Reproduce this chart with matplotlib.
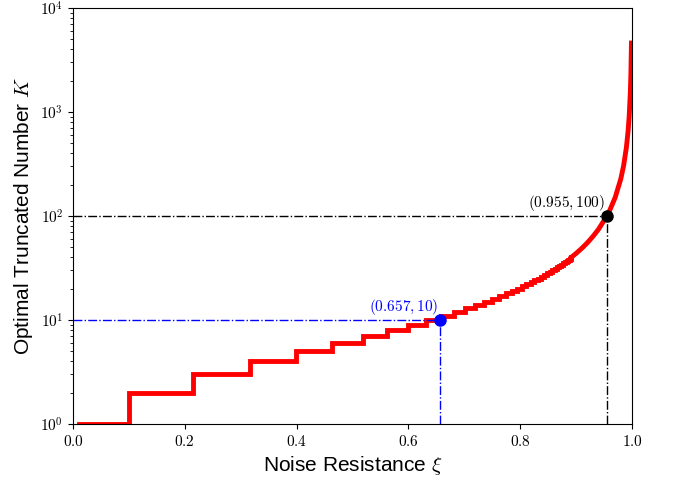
import numpy as np
import matplotlib.pyplot as plt
from matplotlib.ticker import FuncFormatter, LogLocator

plt.rcParams['mathtext.fontset'] = 'cm'
plt.rcParams['font.family'] = ['Liberation Sans', 'DejaVu Sans']

# step part: xi where K jumps to the next level
xi_steps = [0.01, 0.1, 0.2154, 0.3162, 0.3981, 0.4642, 0.5179, 0.5623, 0.5995, 0.6310,
            0.6579, 0.6813, 0.7017, 0.7197, 0.7356, 0.7499, 0.7627, 0.7743, 0.7848, 0.7943,
            0.8031, 0.8111, 0.8185, 0.8254, 0.8318, 0.8377, 0.8432, 0.8484, 0.8532, 0.8577,
            0.8619, 0.8660, 0.8697, 0.8733, 0.8767, 0.8799, 0.8829, 0.8858, 0.8886, 0.8913]
K_steps = list(range(1, len(xi_steps) + 1))

# smooth tail near xi -> 1
xi_tail = [0.8913, 0.9, 0.91, 0.92, 0.93, 0.94, 0.955, 0.96, 0.97, 0.98, 0.985,
           0.99, 0.993, 0.995, 0.997, 0.998, 0.999]
K_tail = [40, 43.7, 48.8, 55.2, 63.5, 74.4, 100, 112.8, 151.2, 228, 304.7,
          458.2, 655, 919, 1533, 2301, 4603]

pt_blue = (0.657, 10)
pt_black = (0.955, 100)

fig = plt.figure(figsize=(6.78, 4.82), dpi=100)
ax = fig.add_axes([73/678, 58/482, 559/678, 416/482])

ax.plot(xi_steps, K_steps, color='red', lw=3.5, drawstyle='steps-post', solid_joinstyle='miter')
ax.plot(xi_tail, K_tail, color='red', lw=3.5)

for (x, y), c in [(pt_blue, 'blue'), (pt_black, 'black')]:
    ax.plot([0, x], [y, y], color=c, ls='-.', lw=1)
    ax.plot([x, x], [1, y], color=c, ls='-.', lw=1)
    ax.plot(x, y, 'o', color=c, ms=8, zorder=5)
    ax.annotate(r'$(%g, %g)$' % (x, y), (x, y), xytext=(-1, 2), textcoords='offset points',
                ha='right', va='bottom', color=c, fontsize=11)

ax.set_yscale('log')
ax.set_xlim(0, 1)
ax.set_ylim(1, 1e4)
ax.xaxis.set_major_formatter(FuncFormatter(lambda v, p: r'$%.1f$' % v))
ax.yaxis.set_major_locator(LogLocator(base=10, numticks=10))
ax.yaxis.set_major_formatter(FuncFormatter(lambda v, p: r'$10^{%d}$' % round(np.log10(v))))
ax.tick_params(labelsize=11, top=False, right=False)
ax.tick_params(which='minor', top=False, right=False)

ax.set_xlabel(r'Noise Resistance $\xi$', fontsize=15)
ax.set_ylabel(r'Optimal Truncated Number $K$', fontsize=15)

fig.savefig('out.png', dpi=100)
